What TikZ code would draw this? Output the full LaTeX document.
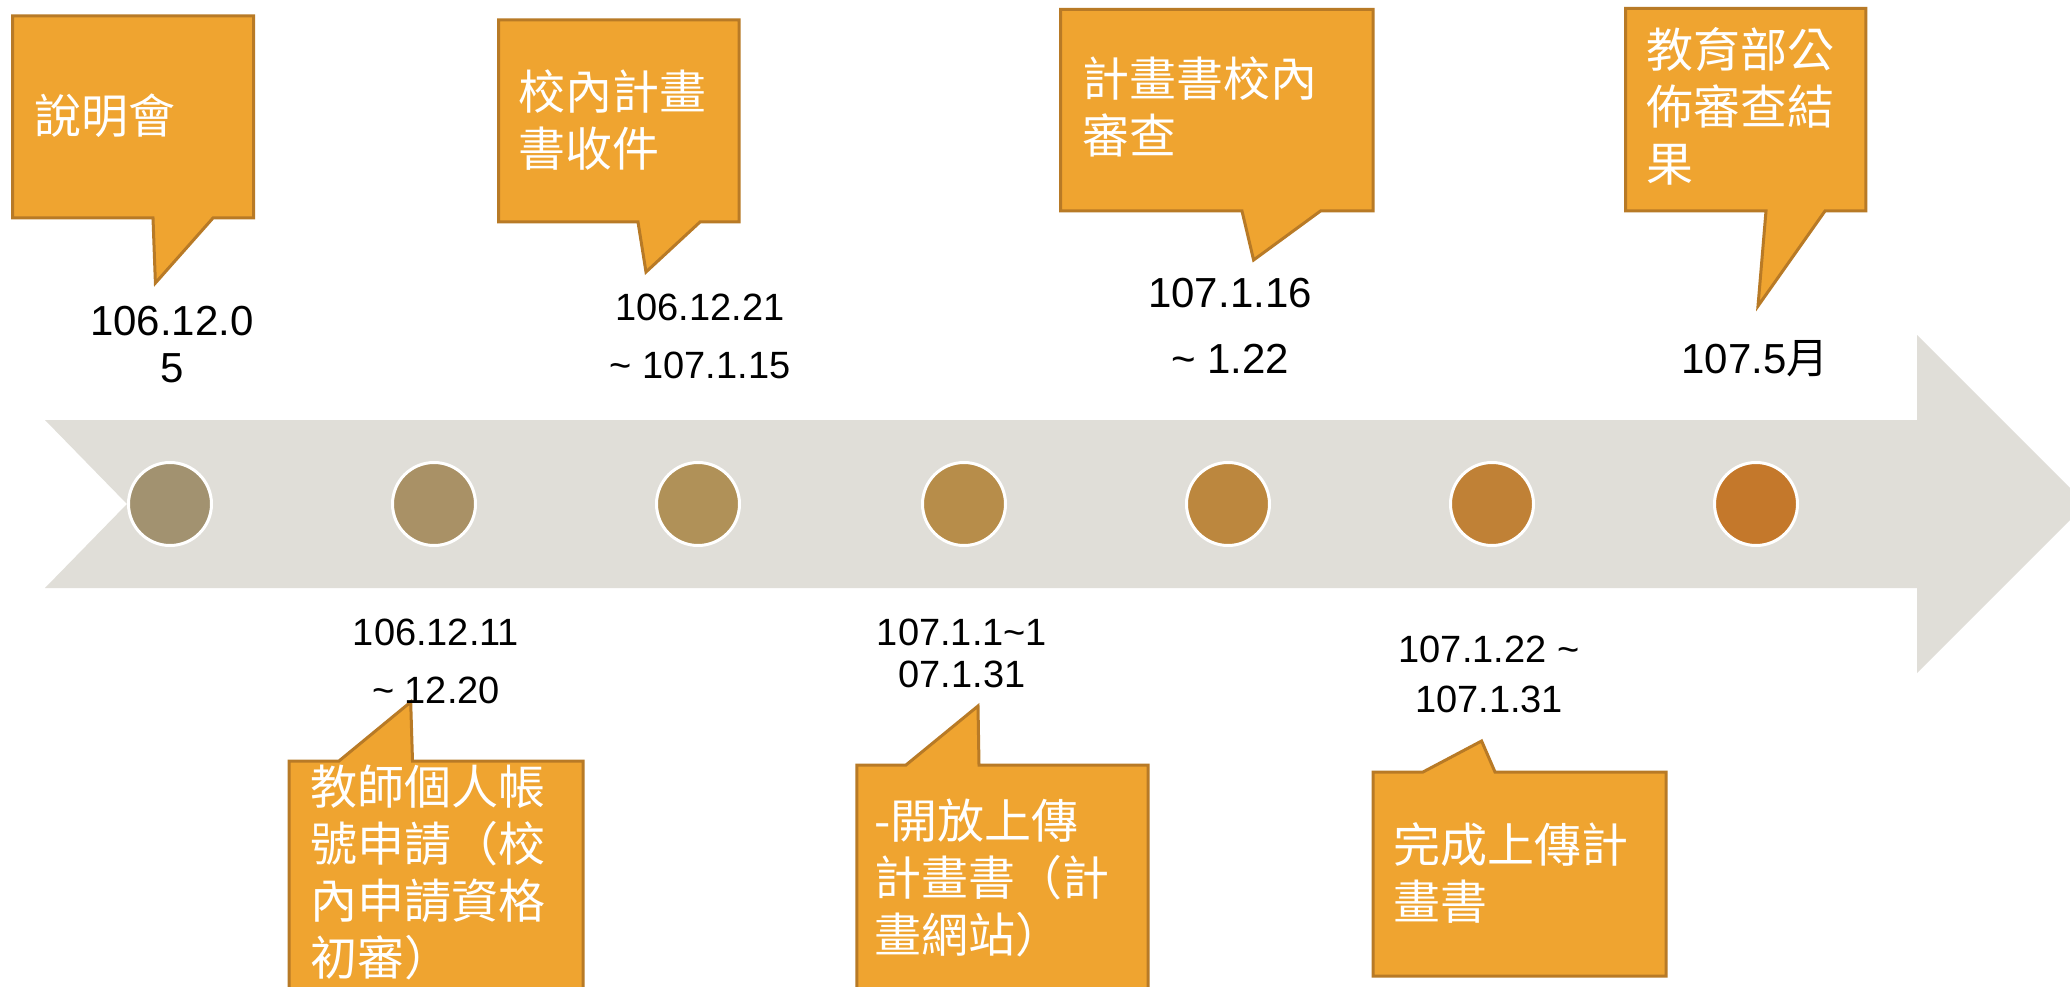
\documentclass[tikz,border=0pt]{standalone}
\usepackage{fontspec}
\setmainfont{Liberation Sans}
\newfontfamily\cjk{Noto Sans CJK TC}
\definecolor{band}{HTML}{E0DED8}
\definecolor{callfill}{HTML}{EFA430}
\definecolor{calldraw}{HTML}{B87A26}
\definecolor{dotA}{HTML}{A29270}
\definecolor{dotB}{HTML}{A99166}
\definecolor{dotC}{HTML}{B09158}
\definecolor{dotD}{HTML}{B78D4A}
\definecolor{dotE}{HTML}{BC873E}
\definecolor{dotF}{HTML}{C08136}
\definecolor{dotG}{HTML}{C4782B}
\tikzset{
  callout/.style={fill=callfill, draw=calldraw, line width=3pt, line join=miter},
  ctext/.style={inner sep=0pt, anchor=base west, align=left, text=white, font=\cjk\fontsize{47}{57}\selectfont},
  dtext/.style={inner sep=0pt, anchor=base, align=center, text=black},
  dot/.style={circle, draw=white, line width=3pt, minimum size=83pt, inner sep=0pt},
}
\begin{document}
\begin{tikzpicture}[x=1pt,y=-1pt]
\useasboundingbox (0,0) rectangle (2070,987);
\clip (0,0) rectangle (2070,987);
\fill[white] (0,0) rectangle (2070,987);
% band arrow
\fill[band] (45,420) -- (1917,420) -- (1917,335) -- (2086,504) -- (1917,673) -- (1917,588) -- (45,588) -- (127,504) -- cycle;
% dots
\node[dot, fill=dotA] (c1) at (170,504) {};
\node[dot, fill=dotB] (c2) at (434,504) {};
\node[dot, fill=dotC] (c3) at (698,504) {};
\node[dot, fill=dotD] (c4) at (964,504) {};
\node[dot, fill=dotE] (c5) at (1228,504) {};
\node[dot, fill=dotF] (c6) at (1492,504) {};
\node[dot, fill=dotG] (c7) at (1756,504) {};
% upper callouts
\draw[callout] (12.5,16) -- (253.6,16) -- (253.6,218) -- (213,218) -- (155.4,283) -- (153,218) -- (12.5,218) -- cycle;
\draw[callout] (498.7,20) -- (739,20) -- (739,222) -- (700,222) -- (646,272) -- (638,222) -- (498.7,222) -- cycle;
\draw[callout] (1060.7,9.3) -- (1373,9.3) -- (1373,211) -- (1320.5,211) -- (1253.6,260) -- (1242,211) -- (1060.7,211) -- cycle;
\draw[callout] (1625.6,8.3) -- (1865.8,8.3) -- (1865.8,211) -- (1825,211) -- (1758,306) -- (1766,211) -- (1625.6,211) -- cycle;
% lower callouts
\draw[callout] (289,1000) -- (289,761) -- (339,761) -- (410.7,702) -- (412.5,761) -- (583,761) -- (583,1000);
\draw[callout] (856.8,1000) -- (856.8,765) -- (906,765) -- (978,706) -- (979,765) -- (1148,765) -- (1148,1000);
\draw[callout] (1373,772) -- (1423,772) -- (1481.6,741) -- (1495,772) -- (1666,772) -- (1666,976) -- (1373,976) -- cycle;
% callout texts (anchor = baseline of last line)
\node[ctext] (t1) at (34,134) {說明會};
\node[ctext] (t2) at (518,167) {校內計畫\\書收件};
\node[ctext] (t3) at (1082,154) {計畫書校內\\審查};
\node[ctext] (t4) at (1646,182) {教育部公\\佈審查結\\果};
\node[ctext] (t5) at (310,975) {教師個人帳\\號申請（校\\內申請資格\\初審）};
\node[ctext] (t6) at (874,952) {-開放上傳\\計畫書（計\\畫網站）};
\node[ctext] (t7) at (1393,919) {完成上傳計\\畫書};
% dates
\node[dtext, font=\fontsize{42}{47}\selectfont] (d1) at (172,382) {106.12.0\\5};
\node[dtext, font=\fontsize{38}{58}\selectfont] (d2) at (700,378) {106.12.21\\\textasciitilde{} 107.1.15};
\node[dtext, font=\fontsize{42}{66}\selectfont] (d3) at (1230,373) {107.1.16\\\textasciitilde{} 1.22};
\node[dtext, font=\fontsize{42}{50}\selectfont] (d4) at (1755,373) {107.5{\cjk 月}};
\node[dtext, font=\fontsize{38}{58}\selectfont] (d5) at (436,703) {106.12.11\\\textasciitilde{} 12.20};
\node[dtext, font=\fontsize{38}{42}\selectfont] (d6) at (962,687) {107.1.1\textasciitilde1\\07.1.31};
\node[dtext, font=\fontsize{38}{50}\selectfont] (d7) at (1489,712) {107.1.22 \textasciitilde\\107.1.31};
\end{tikzpicture}
\end{document}
